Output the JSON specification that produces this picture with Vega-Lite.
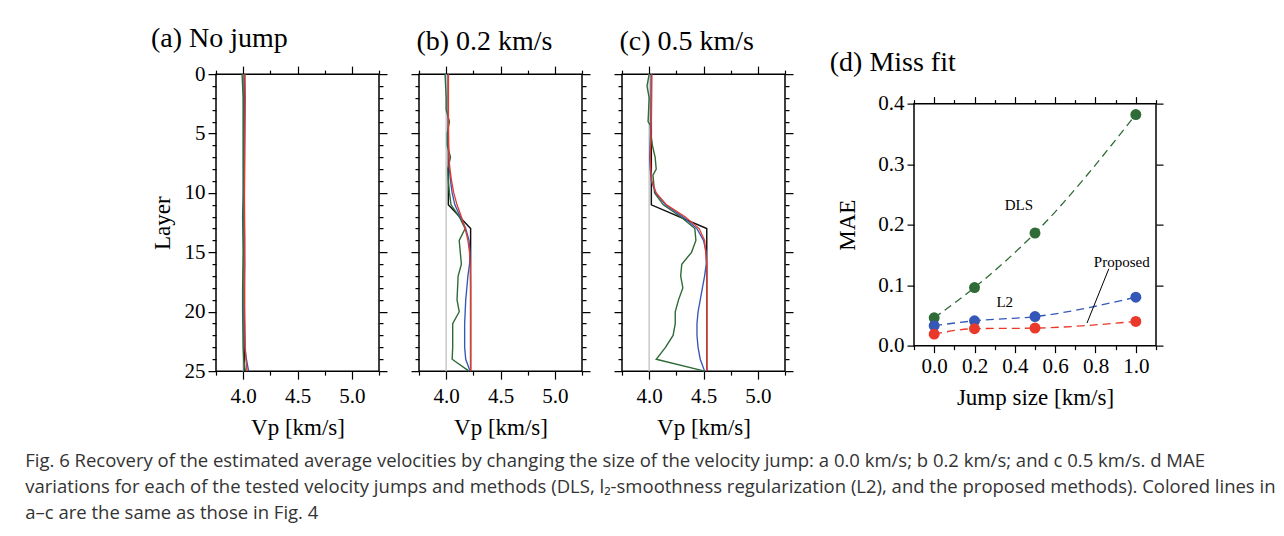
{
"$schema": "https://vega.github.io/schema/vega-lite/v6.json",
"background": "white",
"padding": {"left": 25, "top": 24, "right": 5, "bottom": 5},
"title": {"text": ["Fig. 6  Recovery of the estimated average velocities by changing the size of the velocity jump: a 0.0 km/s; b 0.2 km/s; and c 0.5 km/s. d MAE", "variations for each of the tested velocity jumps and methods (DLS, l₂-smoothness regularization (L2), and the proposed methods). Colored lines in", "a–c are the same as those in Fig. 4"], "orient": "bottom", "anchor": "start", "frame": "bounds", "font": "Open Sans", "fontSize": 18.5, "fontWeight": "normal", "color": "#333333", "lineHeight": 26, "offset": 12, "dx": -125},
"datasets": {
"prof": [
{"p":"a","s":"0gray","l":0,"v":4.0},{"p":"a","s":"0gray","l":25,"v":4.0},
{"p":"a","s":"1true","l":0,"v":4.01},{"p":"a","s":"1true","l":25,"v":4.01},
{"p":"a","s":"2DLS","l":0,"v":3.99},{"p":"a","s":"2DLS","l":2,"v":4.0},{"p":"a","s":"2DLS","l":5,"v":4.0},{"p":"a","s":"2DLS","l":8,"v":4.0},{"p":"a","s":"2DLS","l":10,"v":4.0},{"p":"a","s":"2DLS","l":12,"v":3.995},{"p":"a","s":"2DLS","l":15,"v":4.0},{"p":"a","s":"2DLS","l":18,"v":3.995},{"p":"a","s":"2DLS","l":20,"v":3.995},{"p":"a","s":"2DLS","l":23,"v":4.0},{"p":"a","s":"2DLS","l":24,"v":4.005},{"p":"a","s":"2DLS","l":25,"v":4.02},
{"p":"a","s":"3L2","l":0,"v":4.015},{"p":"a","s":"3L2","l":3,"v":4.015},{"p":"a","s":"3L2","l":8,"v":4.012},{"p":"a","s":"3L2","l":12,"v":4.01},{"p":"a","s":"3L2","l":16,"v":4.015},{"p":"a","s":"3L2","l":20,"v":4.01},{"p":"a","s":"3L2","l":23,"v":4.015},{"p":"a","s":"3L2","l":24,"v":4.03},{"p":"a","s":"3L2","l":25,"v":4.05},
{"p":"a","s":"4Proposed","l":0,"v":4.015},{"p":"a","s":"4Proposed","l":2,"v":4.02},{"p":"a","s":"4Proposed","l":6,"v":4.015},{"p":"a","s":"4Proposed","l":10,"v":4.012},{"p":"a","s":"4Proposed","l":14,"v":4.015},{"p":"a","s":"4Proposed","l":17,"v":4.012},{"p":"a","s":"4Proposed","l":20,"v":4.015},{"p":"a","s":"4Proposed","l":23,"v":4.02},{"p":"a","s":"4Proposed","l":24,"v":4.025},{"p":"a","s":"4Proposed","l":25,"v":4.035},
{"p":"b","s":"0gray","l":0,"v":4.0},{"p":"b","s":"0gray","l":25,"v":4.0},
{"p":"b","s":"1true","l":0,"v":4.02},{"p":"b","s":"1true","l":11,"v":4.02},{"p":"b","s":"1true","l":13,"v":4.225},{"p":"b","s":"1true","l":25,"v":4.225},
{"p":"b","s":"2DLS","l":0,"v":3.99},{"p":"b","s":"2DLS","l":1,"v":3.995},{"p":"b","s":"2DLS","l":2,"v":4.0},{"p":"b","s":"2DLS","l":3,"v":4.0},{"p":"b","s":"2DLS","l":4,"v":4.03},{"p":"b","s":"2DLS","l":5,"v":4.01},{"p":"b","s":"2DLS","l":6,"v":4.01},{"p":"b","s":"2DLS","l":7,"v":4.04},{"p":"b","s":"2DLS","l":8,"v":4.015},{"p":"b","s":"2DLS","l":9,"v":4.02},{"p":"b","s":"2DLS","l":10,"v":4.03},{"p":"b","s":"2DLS","l":11,"v":4.045},{"p":"b","s":"2DLS","l":12,"v":4.12},{"p":"b","s":"2DLS","l":13,"v":4.175},{"p":"b","s":"2DLS","l":14,"v":4.12},{"p":"b","s":"2DLS","l":15,"v":4.13},{"p":"b","s":"2DLS","l":16,"v":4.14},{"p":"b","s":"2DLS","l":17,"v":4.11},{"p":"b","s":"2DLS","l":18,"v":4.105},{"p":"b","s":"2DLS","l":19,"v":4.1},{"p":"b","s":"2DLS","l":20,"v":4.12},{"p":"b","s":"2DLS","l":21,"v":4.06},{"p":"b","s":"2DLS","l":22,"v":4.06},{"p":"b","s":"2DLS","l":23,"v":4.06},{"p":"b","s":"2DLS","l":24,"v":4.055},{"p":"b","s":"2DLS","l":25,"v":4.21},
{"p":"b","s":"3L2","l":0,"v":4.02},{"p":"b","s":"3L2","l":3,"v":4.02},{"p":"b","s":"3L2","l":6,"v":4.02},{"p":"b","s":"3L2","l":8,"v":4.03},{"p":"b","s":"3L2","l":9,"v":4.04},{"p":"b","s":"3L2","l":10,"v":4.055},{"p":"b","s":"3L2","l":11,"v":4.08},{"p":"b","s":"3L2","l":12,"v":4.13},{"p":"b","s":"3L2","l":13,"v":4.18},{"p":"b","s":"3L2","l":14,"v":4.21},{"p":"b","s":"3L2","l":15,"v":4.22},{"p":"b","s":"3L2","l":16,"v":4.215},{"p":"b","s":"3L2","l":17,"v":4.2},{"p":"b","s":"3L2","l":18,"v":4.19},{"p":"b","s":"3L2","l":19,"v":4.18},{"p":"b","s":"3L2","l":20,"v":4.175},{"p":"b","s":"3L2","l":21,"v":4.17},{"p":"b","s":"3L2","l":22,"v":4.17},{"p":"b","s":"3L2","l":23,"v":4.17},{"p":"b","s":"3L2","l":24,"v":4.18},{"p":"b","s":"3L2","l":25,"v":4.22},
{"p":"b","s":"4Proposed","l":0,"v":4.02},{"p":"b","s":"4Proposed","l":4,"v":4.02},{"p":"b","s":"4Proposed","l":7,"v":4.025},{"p":"b","s":"4Proposed","l":8,"v":4.035},{"p":"b","s":"4Proposed","l":9,"v":4.05},{"p":"b","s":"4Proposed","l":10,"v":4.07},{"p":"b","s":"4Proposed","l":11,"v":4.1},{"p":"b","s":"4Proposed","l":12,"v":4.14},{"p":"b","s":"4Proposed","l":13,"v":4.175},{"p":"b","s":"4Proposed","l":14,"v":4.2},{"p":"b","s":"4Proposed","l":15,"v":4.215},{"p":"b","s":"4Proposed","l":16,"v":4.222},{"p":"b","s":"4Proposed","l":18,"v":4.225},{"p":"b","s":"4Proposed","l":25,"v":4.225},
{"p":"c","s":"0gray","l":0,"v":4.0},{"p":"c","s":"0gray","l":25,"v":4.0},
{"p":"c","s":"1true","l":0,"v":4.02},{"p":"c","s":"1true","l":11,"v":4.02},{"p":"c","s":"1true","l":13,"v":4.53},{"p":"c","s":"1true","l":25,"v":4.53},
{"p":"c","s":"2DLS","l":0,"v":4.0},{"p":"c","s":"2DLS","l":1,"v":3.98},{"p":"c","s":"2DLS","l":2,"v":4.0},{"p":"c","s":"2DLS","l":3,"v":3.995},{"p":"c","s":"2DLS","l":4,"v":3.99},{"p":"c","s":"2DLS","l":4.3,"v":4.01},{"p":"c","s":"2DLS","l":5,"v":4.015},{"p":"c","s":"2DLS","l":6,"v":4.03},{"p":"c","s":"2DLS","l":7,"v":4.055},{"p":"c","s":"2DLS","l":8,"v":4.065},{"p":"c","s":"2DLS","l":8.5,"v":4.035},{"p":"c","s":"2DLS","l":9,"v":4.04},{"p":"c","s":"2DLS","l":10,"v":4.05},{"p":"c","s":"2DLS","l":11,"v":4.13},{"p":"c","s":"2DLS","l":12,"v":4.29},{"p":"c","s":"2DLS","l":13,"v":4.42},{"p":"c","s":"2DLS","l":14,"v":4.43},{"p":"c","s":"2DLS","l":15,"v":4.39},{"p":"c","s":"2DLS","l":16,"v":4.3},{"p":"c","s":"2DLS","l":17,"v":4.29},{"p":"c","s":"2DLS","l":18,"v":4.31},{"p":"c","s":"2DLS","l":19,"v":4.27},{"p":"c","s":"2DLS","l":20,"v":4.24},{"p":"c","s":"2DLS","l":21,"v":4.24},{"p":"c","s":"2DLS","l":22,"v":4.22},{"p":"c","s":"2DLS","l":23,"v":4.15},{"p":"c","s":"2DLS","l":24,"v":4.065},{"p":"c","s":"2DLS","l":25,"v":4.51},
{"p":"c","s":"3L2","l":0,"v":4.02},{"p":"c","s":"3L2","l":4,"v":4.015},{"p":"c","s":"3L2","l":7,"v":4.005},{"p":"c","s":"3L2","l":8,"v":4.01},{"p":"c","s":"3L2","l":9,"v":4.02},{"p":"c","s":"3L2","l":10,"v":4.06},{"p":"c","s":"3L2","l":11,"v":4.15},{"p":"c","s":"3L2","l":12,"v":4.31},{"p":"c","s":"3L2","l":13,"v":4.44},{"p":"c","s":"3L2","l":14,"v":4.5},{"p":"c","s":"3L2","l":15,"v":4.525},{"p":"c","s":"3L2","l":16,"v":4.525},{"p":"c","s":"3L2","l":17,"v":4.51},{"p":"c","s":"3L2","l":18,"v":4.49},{"p":"c","s":"3L2","l":19,"v":4.47},{"p":"c","s":"3L2","l":20,"v":4.45},{"p":"c","s":"3L2","l":21,"v":4.44},{"p":"c","s":"3L2","l":22,"v":4.44},{"p":"c","s":"3L2","l":23,"v":4.45},{"p":"c","s":"3L2","l":24,"v":4.47},{"p":"c","s":"3L2","l":25,"v":4.51},
{"p":"c","s":"4Proposed","l":0,"v":4.025},{"p":"c","s":"4Proposed","l":4,"v":4.02},{"p":"c","s":"4Proposed","l":7,"v":4.01},{"p":"c","s":"4Proposed","l":8,"v":4.015},{"p":"c","s":"4Proposed","l":9,"v":4.025},{"p":"c","s":"4Proposed","l":10,"v":4.065},{"p":"c","s":"4Proposed","l":11,"v":4.16},{"p":"c","s":"4Proposed","l":12,"v":4.33},{"p":"c","s":"4Proposed","l":13,"v":4.46},{"p":"c","s":"4Proposed","l":14,"v":4.51},{"p":"c","s":"4Proposed","l":15,"v":4.52},{"p":"c","s":"4Proposed","l":16,"v":4.53},{"p":"c","s":"4Proposed","l":25,"v":4.53}
],
"mae": [
{"s":"2DLS","j":0.0,"m":0.046},{"s":"2DLS","j":0.2,"m":0.096},{"s":"2DLS","j":0.5,"m":0.186},{"s":"2DLS","j":1.0,"m":0.382},
{"s":"3L2","j":0.0,"m":0.033},{"s":"3L2","j":0.2,"m":0.041},{"s":"3L2","j":0.5,"m":0.048},{"s":"3L2","j":1.0,"m":0.080},
{"s":"4Proposed","j":0.0,"m":0.019},{"s":"4Proposed","j":0.2,"m":0.028},{"s":"4Proposed","j":0.5,"m":0.029},{"s":"4Proposed","j":1.0,"m":0.040}
],
"labels": [
{"t":"DLS","j":0.42,"m":0.232},{"t":"L2","j":0.35,"m":0.072},{"t":"Proposed","j":0.93,"m":0.138}
],
"leader": [
{"j":0.866,"m":0.127,"j2":0.758,"m2":0.0374}
]
},
"spacing": 34,
"center": true,
"hconcat": [
{"spacing": 20, "hconcat": [
{"width": 163, "height": 297,
 "title": {"text": "(a) No jump", "anchor": "start", "frame": "bounds", "offset": 10},
 "data": {"name": "prof"}, "transform": [{"filter": "datum.p == 'a'"}],
 "resolve": {"axis": {"x": "independent", "y": "independent"}},
 "layer": [
  {"mark": {"type": "line"},
   "encoding": {
    "x": {"field": "v", "type": "quantitative", "scale": {"domain": [3.75, 5.25], "nice": false, "zero": false}, "axis": {"orient": "bottom", "values": [4, 4.5, 5], "format": ".1f", "tickSize": 8, "labelPadding": 6, "title": "Vp [km/s]"}},
    "y": {"field": "l", "type": "quantitative", "scale": {"domain": [0, 25], "reverse": true, "nice": false}, "axis": {"orient": "left", "values": [0, 5, 10, 15, 20, 25], "tickSize": 8, "title": "Layer"}},
    "order": {"field": "l", "type": "quantitative"},
    "color": {"field": "s", "type": "nominal", "scale": {"domain": ["0gray", "1true", "2DLS", "3L2", "4Proposed"], "range": ["#c8c8c8", "#111111", "#2e6b36", "#3557b7", "#e8392b"]}, "legend": null},
    "strokeWidth": {"field": "s", "type": "nominal", "scale": {"domain": ["0gray", "1true", "2DLS", "3L2", "4Proposed"], "range": [1.5, 1.3, 2.0, 1.8, 2.4]}, "legend": null}
   }},
  {"mark": {"type": "point", "opacity": 0},
   "encoding": {
    "x": {"field": "v", "type": "quantitative", "axis": {"orient": "bottom", "values": [3.75, 4.25, 4.75, 5.25], "tickSize": 4, "labels": false, "title": null}},
    "y": {"field": "l", "type": "quantitative", "axis": {"orient": "left", "values": [1,2,3,4,6,7,8,9,11,12,13,14,16,17,18,19,21,22,23,24], "tickSize": 4, "labels": false, "title": null}}
   }},
  {"mark": {"type": "point", "opacity": 0},
   "encoding": {
    "x": {"field": "v", "type": "quantitative", "axis": {"orient": "top", "values": [4, 4.5, 5], "tickSize": 8, "labels": false, "title": null}},
    "y": {"field": "l", "type": "quantitative", "axis": {"orient": "right", "values": [0, 5, 10, 15, 20, 25], "tickSize": 8, "labels": false, "title": null}}
   }},
  {"mark": {"type": "point", "opacity": 0},
   "encoding": {
    "x": {"field": "v", "type": "quantitative", "axis": {"orient": "top", "values": [3.75, 4.25, 4.75, 5.25], "tickSize": 4, "labels": false, "title": null}},
    "y": {"field": "l", "type": "quantitative", "axis": {"orient": "right", "values": [1,2,3,4,6,7,8,9,11,12,13,14,16,17,18,19,21,22,23,24], "tickSize": 4, "labels": false, "title": null}}
   }}
 ]},
{"width": 163, "height": 297,
 "title": {"text": "(b) 0.2 km/s", "anchor": "start", "frame": "bounds", "offset": 10, "dx": 6},
 "data": {"name": "prof"}, "transform": [{"filter": "datum.p == 'b'"}],
 "resolve": {"axis": {"x": "independent", "y": "independent"}},
 "layer": [
  {"mark": {"type": "line"},
   "encoding": {
    "x": {"field": "v", "type": "quantitative", "scale": {"domain": [3.75, 5.25], "nice": false, "zero": false}, "axis": {"orient": "bottom", "values": [4, 4.5, 5], "format": ".1f", "tickSize": 8, "labelPadding": 6, "title": "Vp [km/s]"}},
    "y": {"field": "l", "type": "quantitative", "scale": {"domain": [0, 25], "reverse": true, "nice": false}, "axis": {"orient": "left", "values": [0, 5, 10, 15, 20, 25], "tickSize": 8, "labels": false, "title": null}},
    "order": {"field": "l", "type": "quantitative"},
    "color": {"field": "s", "type": "nominal", "scale": {"domain": ["0gray", "1true", "2DLS", "3L2", "4Proposed"], "range": ["#c8c8c8", "#111111", "#2e6b36", "#3557b7", "#e8392b"]}, "legend": null},
    "strokeWidth": {"field": "s", "type": "nominal", "scale": {"domain": ["0gray", "1true", "2DLS", "3L2", "4Proposed"], "range": [1.5, 1.3, 2.0, 1.8, 2.4]}, "legend": null}
   }},
  {"mark": {"type": "point", "opacity": 0},
   "encoding": {
    "x": {"field": "v", "type": "quantitative", "axis": {"orient": "bottom", "values": [3.75, 4.25, 4.75, 5.25], "tickSize": 4, "labels": false, "title": null}},
    "y": {"field": "l", "type": "quantitative", "axis": {"orient": "left", "values": [1,2,3,4,6,7,8,9,11,12,13,14,16,17,18,19,21,22,23,24], "tickSize": 4, "labels": false, "title": null}}
   }},
  {"mark": {"type": "point", "opacity": 0},
   "encoding": {
    "x": {"field": "v", "type": "quantitative", "axis": {"orient": "top", "values": [4, 4.5, 5], "tickSize": 8, "labels": false, "title": null}},
    "y": {"field": "l", "type": "quantitative", "axis": {"orient": "right", "values": [0, 5, 10, 15, 20, 25], "tickSize": 8, "labels": false, "title": null}}
   }},
  {"mark": {"type": "point", "opacity": 0},
   "encoding": {
    "x": {"field": "v", "type": "quantitative", "axis": {"orient": "top", "values": [3.75, 4.25, 4.75, 5.25], "tickSize": 4, "labels": false, "title": null}},
    "y": {"field": "l", "type": "quantitative", "axis": {"orient": "right", "values": [1,2,3,4,6,7,8,9,11,12,13,14,16,17,18,19,21,22,23,24], "tickSize": 4, "labels": false, "title": null}}
   }}
 ]},
{"width": 163, "height": 297,
 "title": {"text": "(c) 0.5 km/s", "anchor": "start", "frame": "bounds", "offset": 10, "dx": 6},
 "data": {"name": "prof"}, "transform": [{"filter": "datum.p == 'c'"}],
 "resolve": {"axis": {"x": "independent", "y": "independent"}},
 "layer": [
  {"mark": {"type": "line"},
   "encoding": {
    "x": {"field": "v", "type": "quantitative", "scale": {"domain": [3.75, 5.25], "nice": false, "zero": false}, "axis": {"orient": "bottom", "values": [4, 4.5, 5], "format": ".1f", "tickSize": 8, "labelPadding": 6, "title": "Vp [km/s]"}},
    "y": {"field": "l", "type": "quantitative", "scale": {"domain": [0, 25], "reverse": true, "nice": false}, "axis": {"orient": "left", "values": [0, 5, 10, 15, 20, 25], "tickSize": 8, "labels": false, "title": null}},
    "order": {"field": "l", "type": "quantitative"},
    "color": {"field": "s", "type": "nominal", "scale": {"domain": ["0gray", "1true", "2DLS", "3L2", "4Proposed"], "range": ["#c8c8c8", "#111111", "#2e6b36", "#3557b7", "#e8392b"]}, "legend": null},
    "strokeWidth": {"field": "s", "type": "nominal", "scale": {"domain": ["0gray", "1true", "2DLS", "3L2", "4Proposed"], "range": [1.5, 1.3, 2.0, 1.8, 2.4]}, "legend": null}
   }},
  {"mark": {"type": "point", "opacity": 0},
   "encoding": {
    "x": {"field": "v", "type": "quantitative", "axis": {"orient": "bottom", "values": [3.75, 4.25, 4.75, 5.25], "tickSize": 4, "labels": false, "title": null}},
    "y": {"field": "l", "type": "quantitative", "axis": {"orient": "left", "values": [1,2,3,4,6,7,8,9,11,12,13,14,16,17,18,19,21,22,23,24], "tickSize": 4, "labels": false, "title": null}}
   }},
  {"mark": {"type": "point", "opacity": 0},
   "encoding": {
    "x": {"field": "v", "type": "quantitative", "axis": {"orient": "top", "values": [4, 4.5, 5], "tickSize": 8, "labels": false, "title": null}},
    "y": {"field": "l", "type": "quantitative", "axis": {"orient": "right", "values": [0, 5, 10, 15, 20, 25], "tickSize": 8, "labels": false, "title": null}}
   }},
  {"mark": {"type": "point", "opacity": 0},
   "encoding": {
    "x": {"field": "v", "type": "quantitative", "axis": {"orient": "top", "values": [3.75, 4.25, 4.75, 5.25], "tickSize": 4, "labels": false, "title": null}},
    "y": {"field": "l", "type": "quantitative", "axis": {"orient": "right", "values": [1,2,3,4,6,7,8,9,11,12,13,14,16,17,18,19,21,22,23,24], "tickSize": 4, "labels": false, "title": null}}
   }}
 ]}
]},
{"width": 242, "height": 242,
 "title": {"text": "(d) Miss fit", "anchor": "start", "frame": "bounds", "offset": 16, "dx": -7},
 "resolve": {"axis": {"x": "independent", "y": "independent"}},
 "layer": [
  {"data": {"name": "mae"},
   "mark": {"type": "line", "strokeDash": [8, 5], "strokeWidth": 1.3, "interpolate": "monotone"},
   "encoding": {
    "x": {"field": "j", "type": "quantitative", "scale": {"domain": [-0.1, 1.1], "nice": false, "zero": false}, "axis": {"orient": "bottom", "values": [0, 0.2, 0.4, 0.6, 0.8, 1.0], "format": ".1f", "tickSize": 7, "title": "Jump size [km/s]"}},
    "y": {"field": "m", "type": "quantitative", "scale": {"domain": [0, 0.4], "nice": false}, "axis": {"orient": "left", "values": [0, 0.1, 0.2, 0.3, 0.4], "format": ".1f", "tickSize": 7, "title": "MAE", "titlePadding": 18}},
    "color": {"field": "s", "type": "nominal", "scale": {"domain": ["0gray", "1true", "2DLS", "3L2", "4Proposed"], "range": ["#c8c8c8", "#111111", "#2e6b36", "#3557b7", "#e8392b"]}, "legend": null}
   }},
  {"data": {"name": "mae"},
   "mark": {"type": "point", "filled": true, "opacity": 1, "size": 120},
   "encoding": {
    "x": {"field": "j", "type": "quantitative", "axis": {"orient": "bottom", "values": [-0.1, 0.1, 0.3, 0.5, 0.7, 0.9, 1.1], "tickSize": 4, "labels": false, "title": null}},
    "y": {"field": "m", "type": "quantitative", "axis": {"orient": "right", "values": [0, 0.1, 0.2, 0.3, 0.4], "tickSize": 7, "labels": false, "title": null}},
    "color": {"field": "s", "type": "nominal", "scale": {"domain": ["0gray", "1true", "2DLS", "3L2", "4Proposed"], "range": ["#c8c8c8", "#111111", "#2e6b36", "#3557b7", "#e8392b"]}, "legend": null}
   }},
  {"data": {"name": "labels"},
   "mark": {"type": "text", "font": "Liberation Serif", "fontSize": 15, "color": "black"},
   "encoding": {
    "x": {"field": "j", "type": "quantitative", "axis": {"orient": "top", "values": [0, 0.2, 0.4, 0.6, 0.8, 1.0], "tickSize": 7, "labels": false, "title": null}},
    "y": {"field": "m", "type": "quantitative", "axis": null},
    "text": {"field": "t"}
   }},
  {"data": {"name": "leader"},
   "mark": {"type": "rule", "color": "black", "strokeWidth": 1},
   "encoding": {
    "x": {"field": "j", "type": "quantitative", "axis": {"orient": "top", "values": [-0.1, 0.1, 0.3, 0.5, 0.7, 0.9, 1.1], "tickSize": 4, "labels": false, "title": null}},
    "y": {"field": "m", "type": "quantitative", "axis": null},
    "x2": {"field": "j2"},
    "y2": {"field": "m2"}
   }}
 ]}
],
"config": {
 "view": {"stroke": "black", "strokeWidth": 1.5},
 "font": "Liberation Serif",
 "title": {"font": "Liberation Serif", "fontSize": 28, "fontWeight": "normal", "color": "black"},
 "axis": {"domain": false, "grid": false, "labelFont": "Liberation Serif", "labelFontSize": 21, "labelColor": "black", "labelPadding": 3, "titleFont": "Liberation Serif", "titleFontSize": 23, "titleFontWeight": "normal", "titleColor": "black", "titlePadding": 10, "tickColor": "black", "tickWidth": 1.2}
}
}
